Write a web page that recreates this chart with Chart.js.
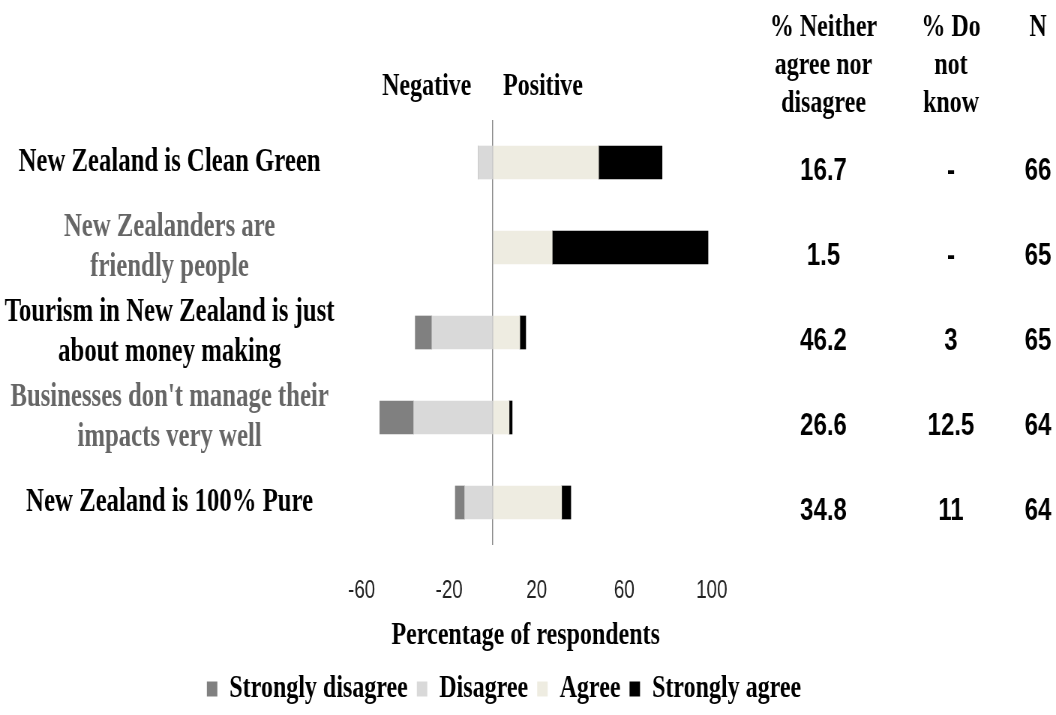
<!DOCTYPE html>
<html>
<head>
<meta charset="utf-8">
<script src="https://cdn.jsdelivr.net/npm/chart.js@4/dist/chart.umd.min.js"></script>
<style>
  html, body { margin: 0; padding: 0; background: #fff; overflow: hidden; }
  /* the original chart is squeezed horizontally, so draw wide and compress */
  #wrap { width: 1408px; height: 715px; transform: scaleX(0.75); transform-origin: 0 0; }
</style>
</head>
<body>
<div id="wrap"><canvas id="chart" width="1408" height="715"></canvas></div>
<script>
// Statements
const categories = [
  'New Zealand is Clean Green',
  ['New Zealanders are', 'friendly people'],
  ['Tourism in New Zealand is just', 'about money making'],
  ["Businesses don't manage their", 'impacts very well'],
  'New Zealand is 100% Pure'
];

// Percentages of respondents (negative side drawn to the left)
const stronglyDisagree = [0, 0, 7.6, 15.5, 4.3];
const disagree = [6.7, 0, 27.9, 36.2, 12.9];
const agree = [48.3, 27.1, 12.3, 7.4, 31.4];
const stronglyAgree = [29.0, 71.2, 2.7, 1.4, 4.2];

// Side table
const neitherPct = ['16.7', '1.5', '46.2', '26.6', '34.8'];
const dontKnowPct = ['-', '-', '3', '12.5', '11'];
const nCounts = ['66', '65', '65', '64', '64'];
const tableHeads = [['% Neither', 'agree nor', 'disagree'], ['% Do', 'not', 'know'], ['N']];

const xTicks = [-60, -20, 20, 60, 100];

const serif = '"Liberation Serif", "Times New Roman", serif';
const sans = '"Liberation Sans", Arial, sans-serif';
const legendOrder = ['Strongly disagree', 'Disagree', 'Agree', 'Strongly agree'];

// draws the Negative/Positive headers and the table on the right
const sideTable = {
  id: 'sideTable',
  afterDraw(chart) {
    const ctx = chart.ctx;
    const yScale = chart.scales.y;
    const colX = [1098, 1268, 1384];
    ctx.save();
    ctx.fillStyle = '#000';
    ctx.textAlign = 'center';
    ctx.textBaseline = 'alphabetic';
    ctx.font = 'bold 32px ' + serif;
    ctx.fillText('Negative', 569, 95);
    ctx.fillText('Positive', 724, 95);
    tableHeads.forEach((lines, c) => {
      lines.forEach((t, k) => ctx.fillText(t, colX[c], 36 + k * 38));
    });
    ctx.font = 'bold 32px ' + sans;
    categories.forEach((cat, i) => {
      const py = yScale.getPixelForValue(i) + 17;
      ctx.fillText(neitherPct[i], colX[0], py);
      ctx.fillText(dontKnowPct[i], colX[1], py);
      ctx.fillText(nCounts[i], colX[2], py);
    });
    ctx.restore();
  }
};

// Disagree goes first so it sits next to zero, Strongly disagree beyond it
const datasets = [
  { label: 'Disagree', data: disagree.map(v => -v), backgroundColor: '#d9d9d9' },
  { label: 'Strongly disagree', data: stronglyDisagree.map(v => -v), backgroundColor: '#808080' },
  { label: 'Agree', data: agree, backgroundColor: '#eeece1' },
  { label: 'Strongly agree', data: stronglyAgree, backgroundColor: '#000000' }
];

const ctx = document.getElementById('chart').getContext('2d');
const chart = new Chart(ctx, {
  type: 'bar',
  data: { labels: categories, datasets: datasets },
  options: {
    responsive: false,
    animation: false,
    indexAxis: 'y',
    barThickness: 33,
    layout: { padding: { top: 120, left: 0, right: 64, bottom: 0 } },
    plugins: {
      tooltip: { enabled: false },
      legend: {
        position: 'bottom',
        labels: {
          color: '#000',
          font: { family: serif, size: 32, weight: 'bold' },
          boxWidth: 14,
          boxHeight: 15,
          padding: 12,
          sort: (a, b) => legendOrder.indexOf(a.text) - legendOrder.indexOf(b.text)
        }
      }
    },
    scales: {
      x: {
        stacked: true,
        min: -70,
        max: 100,
        afterBuildTicks(scale) {
          scale.ticks = xTicks.concat([0]).sort((a, b) => a - b).map(v => ({ value: v }));
        },
        afterFit(scale) { scale.height = 116; },
        border: { display: false },
        grid: {
          drawTicks: false,
          lineWidth: 1.5,
          color: c => (c.tick && c.tick.value === 0 ? '#8c8c8c' : 'rgba(0,0,0,0)')
        },
        ticks: {
          padding: 31,
          color: '#222',
          font: { family: sans, size: 25 },
          callback: v => (v === 0 ? '' : v)
        },
        title: {
          display: true,
          text: 'Percentage of respondents',
          color: '#000',
          font: { family: serif, size: 32, weight: 'bold' },
          padding: { top: 8, bottom: 6 }
        }
      },
      y: {
        stacked: true,
        grid: { display: false },
        border: { display: false },
        ticks: {
          autoSkip: false,
          crossAlign: 'center',
          padding: -1,
          color: c => (c.index % 2 === 0 ? '#000' : '#666'),
          font: { family: serif, size: 33, weight: 'bold', lineHeight: 1.22 }
        },
        afterFit(scale) { scale.width = 453; }
      },
      yRight: {
        type: 'category',
        position: 'right',
        grid: { display: false },
        border: { display: false },
        ticks: { display: false },
        afterFit(scale) { scale.width = 395; }
      }
    }
  },
  plugins: [sideTable]
});
</script>
</body>
</html>
